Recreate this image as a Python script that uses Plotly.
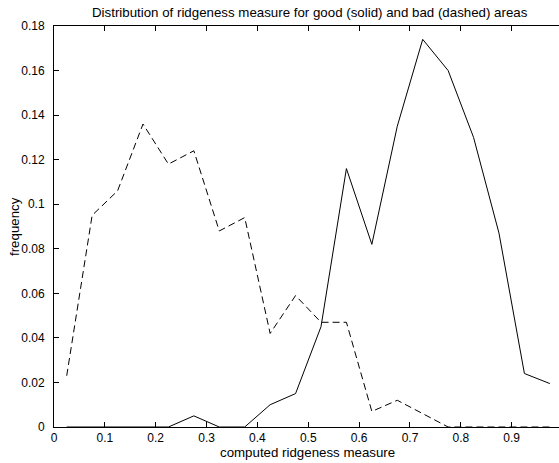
import plotly.graph_objects as go

bin_centers = [0.025, 0.075, 0.125, 0.175, 0.225, 0.275, 0.325, 0.375, 0.425, 0.475,
               0.525, 0.575, 0.625, 0.675, 0.725, 0.775, 0.825, 0.875, 0.925, 0.975]
good_freq = [0, 0, 0, 0, 0, 0.005, 0, 0, 0.010, 0.015,
             0.045, 0.116, 0.082, 0.135, 0.174, 0.160, 0.130, 0.087, 0.024, 0.0195]
bad_freq = [0.023, 0.095, 0.106, 0.136, 0.118, 0.124, 0.088, 0.094, 0.042, 0.059,
            0.047, 0.047, 0.007, 0.012, 0.006, 0, 0, 0, 0, 0]
x_ticks = [0, 0.1, 0.2, 0.3, 0.4, 0.5, 0.6, 0.7, 0.8, 0.9]
x_tick_labels = ["0", "0.1", "0.2", "0.3", "0.4", "0.5", "0.6", "0.7", "0.8", "0.9"]
y_ticks = [0, 0.02, 0.04, 0.06, 0.08, 0.1, 0.12, 0.14, 0.16, 0.18]
y_tick_labels = ["0", "0.02", "0.04", "0.06", "0.08", "0.1", "0.12", "0.14", "0.16", "0.18"]

FONT = "Liberation Sans, Arial, Helvetica, sans-serif"
TICK_SIZE = 12
LABEL_SIZE = 13.3

fig = go.Figure()
fig.add_trace(go.Scatter(x=bin_centers, y=good_freq, mode="lines",
                         line=dict(color="black", width=1), showlegend=False,
                         hoverinfo="skip"))
fig.add_trace(go.Scatter(x=bin_centers, y=bad_freq, mode="lines",
                         line=dict(color="black", width=1, dash="7px,4px"), showlegend=False,
                         hoverinfo="skip"))

W, H = 559, 463
L, T, B = 54, 26, 36
fig.update_layout(
    width=W, height=H,
    margin=dict(l=L, r=0, t=T, b=B),
    paper_bgcolor="white", plot_bgcolor="white",
    font=dict(family=FONT, size=TICK_SIZE, color="black"),
    xaxis=dict(range=[0, 0.993], tickvals=x_ticks, ticktext=x_tick_labels,
               ticks="inside", ticklen=5, tickwidth=1, tickcolor="black",
               showline=True, linecolor="black", linewidth=1, mirror="ticks",
               showgrid=False, zeroline=False, tickfont=dict(size=TICK_SIZE)),
    yaxis=dict(range=[0, 0.18], tickvals=y_ticks, ticktext=y_tick_labels,
               ticks="inside", ticklen=5, tickwidth=1, tickcolor="black",
               showline=True, linecolor="black", linewidth=1, mirror=False,
               showgrid=False, zeroline=False, tickfont=dict(size=TICK_SIZE),
               ticklabelstandoff=6),
    annotations=[
        dict(text="Distribution of ridgeness measure for good (solid) and bad (dashed) areas",
             xref="paper", yref="paper", x=(309.5 - L) / (W - L), y=1,
             yshift=13.5, xanchor="center", yanchor="middle", showarrow=False,
             font=dict(size=LABEL_SIZE)),
        dict(text="computed ridgeness measure",
             xref="paper", yref="paper", x=(307 - L) / (W - L), y=0,
             yshift=-25, xanchor="center", yanchor="middle", showarrow=False,
             font=dict(size=LABEL_SIZE)),
        dict(text="frequency", textangle=-90,
             xref="paper", yref="paper", x=0, y=0.5,
             xshift=-39.5, xanchor="center", yanchor="middle", showarrow=False,
             font=dict(size=LABEL_SIZE)),
    ],
)

# remove the browser's default 8px page margin so the figure sits at (0, 0)
fig.write_html("out.html", config={"displayModeBar": False},
               post_script="document.body.style.margin='0';")
